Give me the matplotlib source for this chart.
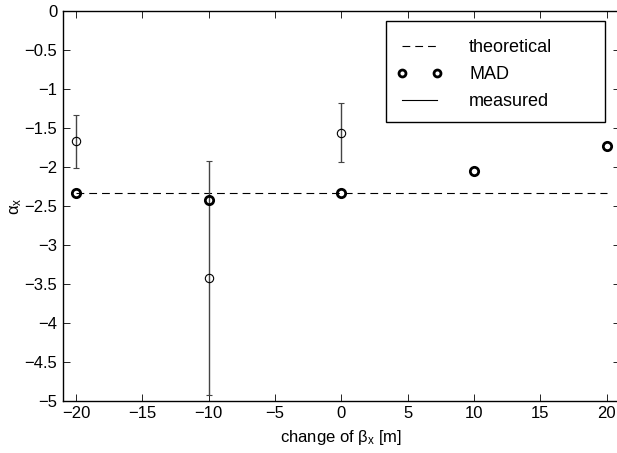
import matplotlib
matplotlib.use("Agg")
import matplotlib.pyplot as plt
from matplotlib.lines import Line2D
from matplotlib.patches import Rectangle

plt.rcParams["font.family"] = ["Liberation Sans", "DejaVu Sans"]
plt.rcParams["mathtext.fontset"] = "custom"
plt.rcParams["mathtext.rm"] = "Liberation Sans"
plt.rcParams["mathtext.it"] = "Liberation Sans"
plt.rcParams["font.size"] = 12

# valores de alpha_x frente al cambio de beta_x
cambio_beta = [-20, -10, 0, 10, 20]
alpha_mad = [-2.33, -2.42, -2.33, -2.05, -1.73]
alpha_teorico = -2.33

cambio_medido = [-20, -10, 0]
alpha_medido = [-1.67, -3.43, -1.56]
error_medido = [0.34, 1.50, 0.38]

guiones = (0, (7, 4.5))
W, H = 617, 453

fig = plt.figure(figsize=(W / 100, H / 100), dpi=100)
ax = fig.add_axes([0.1016, 0.115, 1.005 - 0.1016, 0.976 - 0.115])

ax.plot([cambio_beta[0], cambio_beta[-1]], [alpha_teorico, alpha_teorico],
        linestyle=guiones, color="black", lw=0.8)
ax.errorbar(cambio_medido, alpha_medido, yerr=error_medido, fmt="o",
            mfc="none", mec="black", mew=0.8, ms=6,
            ecolor="#444444", elinewidth=1.0, capsize=2.5, capthick=1.0)
ax.plot(cambio_beta, alpha_mad, linestyle="none", marker="o", ms=6,
        mfc="none", mec="black", mew=2.0)

ax.set_xlim(-21, 21)
ax.set_ylim(-5, 0)
ax.set_xticks(range(-20, 21, 5))
ax.set_yticks([-5, -4.5, -4, -3.5, -3, -2.5, -2, -1.5, -1, -0.5, 0])
ax.set_yticklabels(["\u22125", "\u22124.5", "\u22124", "\u22123.5", "\u22123",
                    "\u22122.5", "\u22122", "\u22121.5", "\u22121", "\u22120.5", "0"])
ax.tick_params(direction="in", top=True, right=True, length=5, width=0.6, pad=4)
for s in ax.spines.values():
    s.set_linewidth(1.0)

ax.set_xlabel(r"change of $\beta_x$ [m]", labelpad=5)
ax.set_ylabel(r"$\alpha_x$", labelpad=0)

# leyenda sin marco; el recuadro va aparte (más ancho por la derecha)
handles = [
    Line2D([], [], linestyle=guiones, color="black", lw=0.8),
    Line2D([], [], linestyle="none", marker="o", ms=5, mfc="none", mec="black", mew=2.0),
    Line2D([], [], linestyle="-", color="black", lw=0.8),
]
ax.add_patch(Rectangle((385.7 / W, 1 - 122.3 / H), (605.3 - 385.7) / W, (122.3 - 21) / H,
                       transform=fig.transFigure, facecolor="white",
                       edgecolor="black", lw=1.0, zorder=4))
leg = ax.legend(handles, ["theoretical", "MAD", "measured"], numpoints=2,
                loc="upper left", bbox_to_anchor=(397 / W, 1 - 39 / H),
                bbox_transform=fig.transFigure, frameon=False, borderpad=0,
                fontsize=13, handlelength=2.5, handletextpad=1.5,
                labelspacing=0.55, borderaxespad=0)
leg.set_zorder(5)

fig.savefig("out.png", dpi=100)
